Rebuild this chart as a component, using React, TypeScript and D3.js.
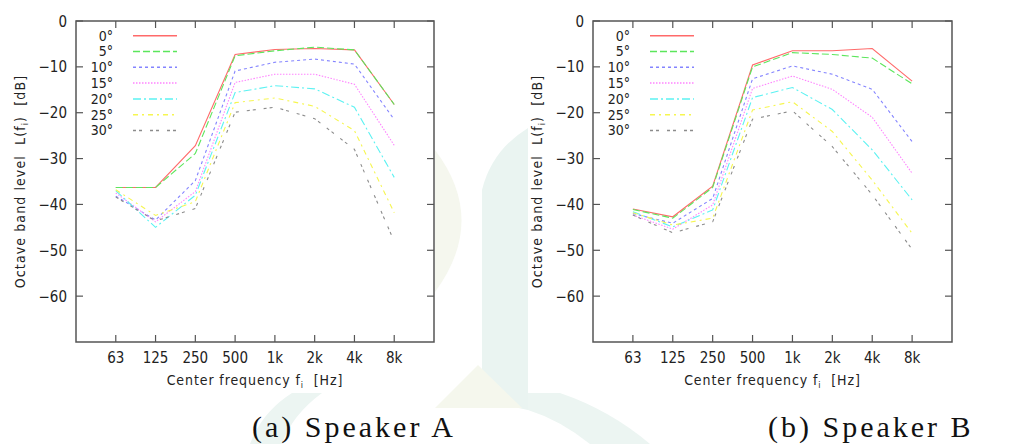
import React from "react";
import { scalePoint, scaleLinear, line } from "d3";

const categories = ["63", "125", "250", "500", "1k", "2k", "4k", "8k"];
const angles = ["0°", "5°", "10°", "15°", "20°", "25°", "30°"];
const yTicks = [0, -10, -20, -30, -40, -50, -60];

// Speaker A, octave band levels [dB]
const speakerA0 = [-36.3, -36.3, -27.2, -7.3, -6.2, -6.0, -6.3, -18.2];
const speakerA5 = [-36.3, -36.3, -28.9, -7.6, -6.5, -5.7, -6.3, -18.2];
const speakerA10 = [-38.2, -43.4, -34.8, -10.9, -9.0, -8.3, -9.4, -21.5];
const speakerA15 = [-37.5, -43.8, -37.2, -13.4, -11.6, -11.6, -13.8, -27.1];
const speakerA20 = [-37.0, -45.0, -38.0, -15.6, -14.1, -14.8, -18.8, -34.1];
const speakerA25 = [-36.8, -42.4, -39.4, -17.8, -16.8, -18.6, -23.9, -41.8];
const speakerA30 = [-38.4, -43.6, -40.9, -19.9, -18.8, -21.3, -28.0, -48.1];

// Speaker B
const speakerB0 = [-41.0, -42.7, -36.0, -9.6, -6.5, -6.5, -6.0, -13.1];
const speakerB5 = [-41.1, -43.0, -36.3, -10.0, -6.9, -7.3, -8.1, -13.7];
const speakerB10 = [-42.0, -44.1, -38.7, -12.6, -9.8, -11.6, -14.9, -26.3];
const speakerB15 = [-42.3, -45.4, -40.1, -14.7, -12.0, -14.9, -21.0, -33.2];
const speakerB20 = [-41.6, -44.9, -41.2, -16.7, -14.5, -19.3, -28.1, -39.0];
const speakerB25 = [-41.8, -44.5, -43.0, -19.4, -17.6, -24.1, -34.7, -46.3];
const speakerB30 = [-42.3, -46.2, -43.8, -21.4, -19.6, -27.4, -37.9, -49.8];

const seriesA = [speakerA0, speakerA5, speakerA10, speakerA15, speakerA20, speakerA25, speakerA30];
const seriesB = [speakerB0, speakerB5, speakerB10, speakerB15, speakerB20, speakerB25, speakerB30];

// washed-out gnuplot palette
const colors = ["#ff6a6a", "#5ce65c", "#8484ff", "#ff84ff", "#5cf2f2", "#f6f650", "#8c8c8c"];
const dashes = ["none", "7,3", "3,3", "1.5,1.5", "8,3,2,3", "5,4,2,4", "3,3,3,8"];

const tickFont = "'DejaVu Sans Condensed', 'DejaVu Sans', sans-serif";
const frameColor = "#555";

const Panel = ({ left, right, top, bottom, data }) => {
  const x = scalePoint().domain(categories).range([left, right]).padding(1);
  const y = scaleLinear().domain([-70, 0]).range([bottom, top]);
  const path = line()
    .x((d, i) => x(categories[i]))
    .y((d) => y(d));

  return (
    <g>
      {data.map((s, i) => (
        <path
          key={i}
          d={path(s)}
          fill="none"
          stroke={colors[i]}
          strokeWidth={1.1}
          strokeDasharray={dashes[i]}
        />
      ))}

      {/* legend */}
      {angles.map((a, i) => {
        const ly = top + 14.7 + i * 15.8;
        return (
          <g key={a}>
            <text
              x={left + 37}
              y={top + 19.5 + i * 15.8}
              textAnchor="end"
              fontSize={14}
              fontFamily={tickFont}
              fill="#222"
            >
              {a}
            </text>
            <path
              d={`M${left + 57},${ly}H${left + 101}`}
              fill="none"
              stroke={colors[i]}
              strokeWidth={1.5}
              strokeDasharray={dashes[i]}
            />
          </g>
        );
      })}

      {/* frame */}
      <rect
        x={left}
        y={top}
        width={right - left}
        height={bottom - top}
        fill="none"
        stroke={frameColor}
        strokeWidth={1.5}
      />
      {categories.map((c) => (
        <g key={c}>
          <line x1={x(c)} x2={x(c)} y1={bottom} y2={bottom - 7} stroke={frameColor} strokeWidth={1.2} />
          <line x1={x(c)} x2={x(c)} y1={top} y2={top + 7} stroke={frameColor} strokeWidth={1.2} />
          <text x={x(c)} y={bottom + 21} textAnchor="middle" fontSize={15} fontFamily={tickFont} fill="#222">
            {c}
          </text>
        </g>
      ))}
      {yTicks.map((t) => (
        <g key={t}>
          <line x1={left} x2={left + 7} y1={y(t)} y2={y(t)} stroke={frameColor} strokeWidth={1.2} />
          <line x1={right} x2={right - 7} y1={y(t)} y2={y(t)} stroke={frameColor} strokeWidth={1.2} />
          <text x={left - 9} y={y(t) + 5.5} textAnchor="end" fontSize={15} fontFamily={tickFont} fill="#222">
            {t === 0 ? "0" : "\u2212" + Math.abs(t)}
          </text>
        </g>
      ))}

      {/* axis titles */}
      <text
        x={(left + right) / 2}
        y={bottom + 43}
        textAnchor="middle"
        fontSize={14}
        fontFamily={tickFont}
        fill="#222"
        letterSpacing={0.9}
        style={{ whiteSpace: "pre" }}
      >
        {"Center frequency f"}
        <tspan fontSize={9} dy={3}>i</tspan>
        <tspan dy={-3}>{"  [Hz]"}</tspan>
      </text>
      <text
        transform={`translate(${left - 51},${(top + bottom) / 2}) rotate(-90)`}
        textAnchor="middle"
        fontSize={14}
        fontFamily={tickFont}
        fill="#222"
        letterSpacing={1.1}
        style={{ whiteSpace: "pre" }}
      >
        {"Octave band level  L(f"}
        <tspan fontSize={9} dy={3}>i</tspan>
        <tspan dy={-3}>{")  [dB]"}</tspan>
      </text>
    </g>
  );
};

const App = () => {
  const W = 1013;
  const H = 444;
  return (
    <svg
      width={W}
      height={H}
      viewBox={`0 0 ${W} ${H}`}
      style={{ position: "absolute", left: 0, top: 0, background: "#fff" }}
    >
      {/* faint watermark behind the figures */}
      <g>
        <path d="M482,400 L482,190 Q492,150 528,128 L528,410 Z" fill="#eaf4f1" />
        <path d="M435,150 Q488,220 435,292 Z" fill="#f5f7ee" />
        <path d="M435,408 L478,365 L522,408 Z" fill="#f5f7ed" />
        <path d="M250,444 Q262,412 292,393 L322,393 Q292,415 282,444 Z" fill="#ecf5f2" />
        <path d="M528,410 Q560,420 590,444 L650,444 Q610,410 560,393 L528,393 Z" fill="#ecf5f2" />
      </g>
      <rect x={0} y={0} width={435} height={393} fill="#fff" />
      <rect x={528} y={0} width={485} height={393} fill="#fff" />

      <Panel left={76} right={434} top={21} bottom={342} data={seriesA} />
      <Panel left={593} right={952} top={21} bottom={342} data={seriesB} />

      <text x={252} y={437} fontSize={30} fontFamily="'Liberation Serif', 'Times New Roman', serif" letterSpacing={3} fill="#111">
        (a) Speaker A
      </text>
      <text x={768} y={437} fontSize={30} fontFamily="'Liberation Serif', 'Times New Roman', serif" letterSpacing={3} fill="#111">
        (b) Speaker B
      </text>
    </svg>
  );
};

export default App;
